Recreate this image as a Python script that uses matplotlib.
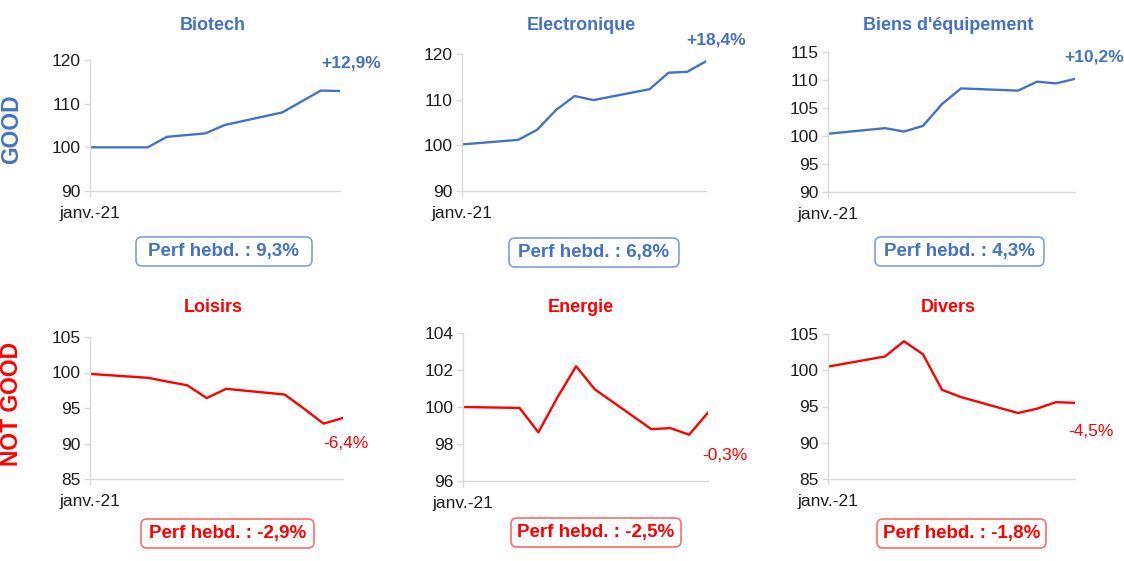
import matplotlib
matplotlib.use("Agg")
import matplotlib.pyplot as plt
import pandas as pd
from matplotlib.patches import FancyBboxPatch
from matplotlib.transforms import IdentityTransform

plt.rcParams['font.family'] = ['Liberation Sans', 'DejaVu Sans']

# trading days, 1 to 14 January 2021
dates = ['2021-01-01', '2021-01-04', '2021-01-05', '2021-01-06', '2021-01-07',
         '2021-01-08', '2021-01-11', '2021-01-12', '2021-01-13', '2021-01-14']
xlabel = 'janv.-21'

titles = ['Biotech', 'Electronique', "Biens d'équipement",
          'Loisirs', 'Energie', 'Divers']
biotech = [100.0, 100.0, 102.4, 102.8, 103.2, 105.1, 108.0, 110.5, 113.0, 112.9]
electronique = [100.2, 101.2, 103.4, 107.7, 110.8, 109.9, 112.3, 115.9, 116.1, 118.4]
biens = [100.4, 101.4, 100.8, 101.8, 105.7, 108.5, 108.1, 109.7, 109.4, 110.2]
loisirs = [99.8, 99.25, 98.7, 98.2, 96.4, 97.7, 96.9, 94.9, 92.8, 93.6]
energie = [100.0, 99.95, 98.63, 100.5, 102.2, 100.95, 98.8, 98.86, 98.5, 99.7]
divers = [100.5, 101.9, 104.0, 102.2, 97.3, 96.3, 94.1, 94.7, 95.6, 95.5]
series = [biotech, electronique, biens, loisirs, energie, divers]

end_labels = ['+12,9%', '+18,4%', '+10,2%', '-6,4%', '-0,3%', '-4,5%']
weekly = ['9,3%', '6,8%', '4,3%', '-2,9%', '-2,5%', '-1,8%']
y_limits = [(90, 120), (90, 120), (90, 115), (85, 105), (96, 104), (85, 105)]
y_steps = [10, 10, 5, 5, 2, 5]
row_labels = ['GOOD', 'NOT GOOD']

BLUE = '#4472C4'
RED = '#FF0000'
W, H = 1124, 561

# layout in pixels: axes (left, right, top, bottom)
axes_px = [(90, 340, 60, 191), (462, 706, 54, 191), (828, 1075, 52, 192),
           (90, 343, 337, 479), (463, 708, 333, 481), (828, 1075, 334, 479)]
title_px = [(213, 25), (581, 25), (948, 25), (213, 308), (581, 308), (948, 308)]
end_px = [(321, 63), (686, 40), (1064, 57), (323, 443), (702, 456), (1068, 432)]
box_px = [(136, 312, 237, 266), (509, 679, 238, 267), (875, 1044, 237, 266),
          (141, 314, 519, 548), (511, 681, 518, 547), (877, 1046, 519, 548)]
row_px = [(12, 129), (12, 404)]

x = pd.to_datetime(dates)

fig = plt.figure(figsize=(W / 100, H / 100), dpi=100)


def fx(px):
    return px / W


def fy(py):
    return 1 - py / H


for i, (vals, title) in enumerate(zip(series, titles)):
    color = BLUE if i < 3 else RED
    left, right, top, bottom = axes_px[i]
    ax = fig.add_axes([fx(left), fy(bottom), (right - left) / W, (bottom - top) / H])
    ax.plot(x, vals, color=color, lw=1.7, solid_joinstyle='round')
    lo, hi = y_limits[i]
    ax.set_ylim(lo, hi)
    ax.set_yticks(range(lo, hi + 1, y_steps[i]))
    ax.set_xlim(x[0], x[-1])
    ax.set_xticks([x[0]])
    ax.set_xticklabels([xlabel])
    for s in ['top', 'right']:
        ax.spines[s].set_visible(False)
    for s in ['left', 'bottom']:
        ax.spines[s].set_color('#d9d9d9')
        ax.spines[s].set_linewidth(1.0)
    ax.tick_params(axis='y', length=4, width=1, color='#d9d9d9', pad=3,
                   labelsize=12.5, labelcolor='#1f1f1f')
    ax.tick_params(axis='x', length=4, width=1, color='#d9d9d9', pad=7,
                   labelsize=12.5, labelcolor='#1f1f1f')

    tx, ty = title_px[i]
    fig.text(fx(tx), fy(ty), title, ha='center', va='center', fontsize=13,
             fontweight='bold', color=color)

    ex, ey = end_px[i]
    fig.text(fx(ex), fy(ey), end_labels[i], ha='left', va='center', fontsize=12.5,
             fontweight='bold' if i < 3 else 'medium', color=color)

    bl, br, bt, bb = box_px[i]
    edge = '#7fa0dc' if i < 3 else '#ff6b6b'
    patch = FancyBboxPatch((bl, H - bb), br - bl, bb - bt,
                           boxstyle='round,pad=0,rounding_size=6',
                           transform=IdentityTransform(), facecolor='white',
                           edgecolor=edge, lw=1.2)
    fig.add_artist(patch)
    fig.text(fx((bl + br) / 2), fy((bt + bb) / 2), 'Perf hebd. : ' + weekly[i],
             ha='center', va='center', fontsize=13.5, fontweight='bold', color=color)

for (rx, ry), label, color in zip(row_px, row_labels, [BLUE, RED]):
    fig.text(fx(rx), fy(ry), label, ha='center', va='center', rotation=90,
             fontsize=16.5, fontweight='bold', color=color)

fig.savefig('out.png', dpi=100)
